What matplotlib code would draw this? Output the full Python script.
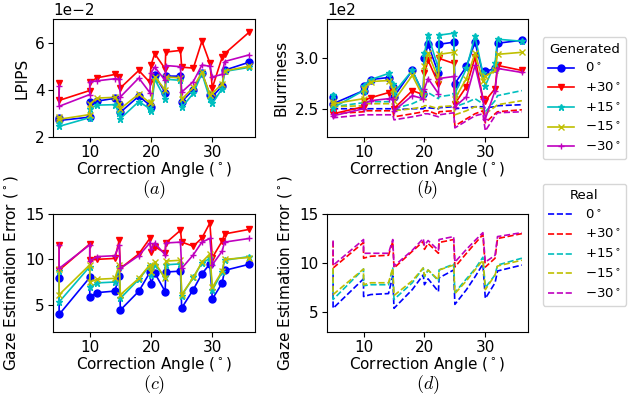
import numpy as np
import matplotlib
matplotlib.use("Agg")
import matplotlib.pyplot as plt
from matplotlib.lines import Line2D

# correction angles (deg)
angle = [5, 5, 10, 10, 11.2, 14.1, 14.8, 15, 18, 19.8, 20, 20.6, 22.3, 22.4,
         24.8, 25, 26.9, 28.3, 29.6, 30, 31.6, 32, 36]

# LPIPS (x 1e-2), generated
lpips_0 = [2.82, 2.7, 2.84, 3.47, 3.52, 3.64, 3.38, 3.05, 3.73, 3.35, 3.27, 4.62, 3.88, 4.58,
           4.58, 3.5, 4.0, 4.72, 3.8, 3.72, 4.15, 4.83, 5.17]
lpips_p30 = [4.28, 3.55, 3.97, 4.32, 4.51, 4.65, 4.53, 4.08, 4.82, 4.32, 5.06, 5.53, 4.89, 5.6,
             5.67, 4.96, 4.92, 6.06, 5.13, 4.08, 5.38, 5.53, 6.44]
lpips_p15 = [2.6, 2.45, 2.82, 3.2, 3.35, 3.37, 3.0, 2.78, 3.5, 3.2, 3.1, 4.45, 3.62, 4.45,
             4.4, 3.25, 3.85, 4.7, 3.6, 3.42, 4.05, 4.78, 4.95]
lpips_m15 = [2.85, 2.75, 2.95, 3.4, 3.65, 3.68, 3.4, 3.2, 3.82, 3.45, 3.5, 4.55, 4.0, 4.55,
             4.5, 3.6, 4.1, 4.75, 3.8, 3.85, 4.25, 4.8, 5.0]
lpips_m30 = [4.14, 3.3, 3.8, 4.35, 4.38, 4.47, 4.45, 3.7, 4.5, 3.88, 4.72, 4.96, 4.4, 5.03,
             4.98, 3.9, 4.35, 5.05, 5.0, 4.55, 4.65, 5.2, 5.48]

# Blurriness (x 1e2), generated
blur_0 = [2.62, 2.55, 2.68, 2.73, 2.79, 2.81, 2.72, 2.62, 2.88, 2.65, 3.0, 3.14, 2.85, 3.14,
          3.16, 2.75, 2.92, 3.16, 2.85, 2.87, 2.9, 3.15, 3.18]
blur_p30 = [2.47, 2.45, 2.52, 2.58, 2.61, 2.66, 2.67, 2.5, 2.68, 2.64, 2.85, 2.98, 2.75, 3.0,
            2.95, 2.55, 2.72, 3.01, 2.6, 2.58, 2.7, 2.93, 2.88]
blur_p15 = [2.64, 2.51, 2.68, 2.73, 2.79, 2.85, 2.75, 2.66, 2.88, 2.65, 3.05, 3.23, 2.9, 3.23,
            3.25, 2.65, 2.9, 3.22, 2.85, 2.73, 2.95, 3.19, 3.17]
blur_m15 = [2.57, 2.55, 2.6, 2.7, 2.77, 2.78, 2.7, 2.58, 2.83, 2.62, 2.92, 3.05, 2.8, 3.04,
            3.06, 2.6, 2.8, 3.05, 2.78, 2.82, 2.88, 3.04, 3.06]
blur_m30 = [2.45, 2.43, 2.5, 2.55, 2.58, 2.6, 2.6, 2.48, 2.63, 2.6, 2.7, 2.8, 2.65, 2.8,
            2.82, 2.52, 2.62, 2.93, 2.6, 2.4, 2.68, 2.9, 2.86]

# Blurriness (x 1e2), real
blur_real_0 = [2.51, 2.5, 2.5, 2.5, 2.5, 2.5, 2.5, 2.49, 2.5, 2.5, 2.51, 2.51, 2.5, 2.51,
               2.52, 2.5, 2.51, 2.52, 2.52, 2.51, 2.52, 2.53, 2.54]
blur_real_p30 = [2.46, 2.45, 2.47, 2.48, 2.48, 2.48, 2.48, 2.42, 2.45, 2.47, 2.48, 2.48, 2.44, 2.47,
                 2.48, 2.33, 2.4, 2.45, 2.48, 2.36, 2.45, 2.47, 2.49]
blur_real_p15 = [2.53, 2.52, 2.56, 2.57, 2.57, 2.57, 2.58, 2.5, 2.55, 2.6, 2.68, 2.66, 2.6, 2.62,
                 2.64, 2.52, 2.56, 2.6, 2.55, 2.47, 2.58, 2.63, 2.68]
blur_real_m15 = [2.53, 2.52, 2.53, 2.55, 2.55, 2.55, 2.55, 2.48, 2.5, 2.52, 2.53, 2.53, 2.5, 2.52,
                 2.53, 2.44, 2.48, 2.52, 2.5, 2.45, 2.52, 2.54, 2.58]
blur_real_m30 = [2.42, 2.41, 2.44, 2.44, 2.44, 2.44, 2.44, 2.39, 2.42, 2.44, 2.45, 2.45, 2.42, 2.44,
                 2.46, 2.31, 2.38, 2.43, 2.45, 2.28, 2.43, 2.46, 2.47]

# Gaze estimation error (deg), generated
gaze_0 = [7.9, 3.92, 8.0, 5.85, 6.33, 6.5, 8.2, 4.41, 6.48, 8.55, 7.25, 8.5, 6.45, 8.6,
          8.7, 4.63, 6.67, 8.4, 9.5, 5.63, 7.37, 8.78, 9.45]
gaze_p30 = [11.55, 8.8, 11.7, 9.9, 10.0, 10.1, 12.1, 9.0, 10.6, 12.3, 10.8, 11.4, 10.7, 11.8,
            13.2, 11.9, 11.45, 12.35, 14.0, 10.2, 12.0, 12.8, 13.3]
gaze_p15 = [8.7, 5.3, 9.2, 6.9, 7.4, 7.5, 9.2, 5.7, 7.8, 9.3, 8.3, 9.4, 8.0, 9.4,
            9.5, 6.0, 8.0, 9.6, 10.1, 6.6, 8.6, 9.9, 10.3]
gaze_m15 = [8.9, 6.1, 9.4, 7.5, 7.8, 7.9, 9.4, 6.1, 7.9, 9.4, 8.6, 9.7, 7.9, 9.8,
            9.9, 6.1, 8.0, 9.7, 10.6, 6.9, 8.7, 10.0, 10.2]
gaze_m30 = [11.6, 9.0, 11.6, 9.8, 10.3, 10.4, 11.6, 9.0, 10.4, 11.8, 11.1, 11.8, 10.5, 11.8,
            11.9, 9.0, 10.5, 11.9, 12.3, 9.4, 10.9, 11.9, 12.3]

# Gaze estimation error (deg), real
gaze_real_0 = [8.8, 5.4, 8.4, 6.6, 6.8, 6.9, 8.7, 5.4, 7.3, 8.8, 7.8, 8.4, 7.1, 8.5,
               9.3, 5.8, 7.3, 8.6, 9.9, 6.4, 8.0, 9.2, 9.8]
gaze_real_p30 = [12.2, 9.5, 12.1, 10.5, 10.7, 10.8, 12.2, 9.5, 11.2, 12.2, 11.4, 12.0, 11.0, 12.1,
                 12.4, 9.6, 11.0, 12.0, 12.9, 9.6, 10.5, 12.5, 13.0]
gaze_real_p15 = [9.4, 6.3, 9.4, 7.7, 7.8, 7.8, 9.5, 6.3, 8.0, 9.5, 8.6, 9.3, 8.2, 9.3,
                 9.9, 7.0, 8.4, 9.4, 10.6, 7.5, 8.8, 9.8, 10.5]
gaze_real_m15 = [9.5, 6.8, 9.4, 7.8, 8.0, 8.0, 9.5, 6.7, 8.2, 9.5, 8.7, 9.3, 8.3, 9.3,
                 9.8, 6.9, 8.2, 9.3, 10.3, 7.3, 8.8, 9.7, 10.3]
gaze_real_m30 = [12.3, 9.77, 12.4, 11.0, 11.0, 11.0, 12.4, 9.7, 11.3, 12.5, 11.8, 12.3, 11.3, 12.4,
                 12.7, 10.1, 11.4, 12.3, 13.1, 10.1, 10.8, 12.7, 13.1]

labels = ['0$^\\circ$', '+30$^\\circ$', '+15$^\\circ$', '$-$15$^\\circ$', '$-$30$^\\circ$']
colors = ['b', 'r', 'c', 'y', 'm']
markers = ['o', 'v', '*', 'x', '+']

plt.rcParams['font.size'] = 11
plt.rcParams['xtick.major.pad'] = 2
plt.rcParams['ytick.major.pad'] = 2.5

fig = plt.figure(figsize=(6.28, 3.97), dpi=100)
ax_a = fig.add_axes([0.0844, 0.655, 0.322, 0.297])
ax_b = fig.add_axes([0.5207, 0.655, 0.320, 0.297])
ax_c = fig.add_axes([0.0844, 0.164, 0.322, 0.297])
ax_d = fig.add_axes([0.5207, 0.164, 0.320, 0.297])

x = np.array(angle)

def gen(ax, series, scale=1.0):
    for y, c, m in zip(series, colors, markers):
        ax.plot(x, np.array(y) * scale, color=c, marker=m, ms=5, lw=1.2)

def real(ax, series, scale=1.0):
    for y, c in zip(series, colors):
        ax.plot(x, np.array(y) * scale, color=c, ls='--', lw=1.2)

gen(ax_a, [lpips_0, lpips_p30, lpips_p15, lpips_m15, lpips_m30], 1e-2)
real(ax_b, [blur_real_0, blur_real_p30, blur_real_p15, blur_real_m15, blur_real_m30], 1e2)
gen(ax_b, [blur_0, blur_p30, blur_p15, blur_m15, blur_m30], 1e2)
gen(ax_c, [gaze_0, gaze_p30, gaze_p15, gaze_m15, gaze_m30])
real(ax_d, [gaze_real_0, gaze_real_p30, gaze_real_p15, gaze_real_m15, gaze_real_m30])

ax_a.set_ylim(0.02, 0.07)
ax_a.set_yticks([0.02, 0.04, 0.06])
ax_a.ticklabel_format(axis='y', style='sci', scilimits=(-2, -2))
ax_a.set_ylabel('LPIPS')

ax_b.set_ylim(222, 339)
ax_b.set_yticks([250, 300])
ax_b.ticklabel_format(axis='y', style='sci', scilimits=(2, 2))
ax_b.set_ylabel('Blurriness')

for ax in (ax_c, ax_d):
    ax.set_yticks([5, 10, 15])
    ax.set_ylabel('Gaze Estimation Error ($^\\circ$)')
ax_c.set_ylim(2, 15)
ax_d.set_ylim(3, 15)

for ax, tag in zip((ax_a, ax_b, ax_c, ax_d), 'abcd'):
    ax.set_xlim(4, 37)
    ax.set_xticks([10, 20, 30])
    ax.set_xlabel('Correction Angle ($^\\circ$)', labelpad=0)
    ax.text(0.5, -0.45, '$(%s)$' % tag, transform=ax.transAxes, ha='center', va='center',
            fontsize=13, math_fontfamily='cm')

gen_handles = [Line2D([], [], color=c, marker=m, ms=5, lw=1.2) for c, m in zip(colors, markers)]
real_handles = [Line2D([], [], color=c, ls='--', lw=1.2) for c in colors]
fig.legend(gen_handles, labels, title='Generated', loc='upper left', borderaxespad=0,
           bbox_to_anchor=(0.864, 0.906), fontsize=9.5, title_fontsize=9.5)
fig.legend(real_handles, labels, title='Real', loc='upper left', borderaxespad=0,
           bbox_to_anchor=(0.864, 0.537), fontsize=9.5, title_fontsize=9.5)

fig.savefig('out.png', dpi=100)
